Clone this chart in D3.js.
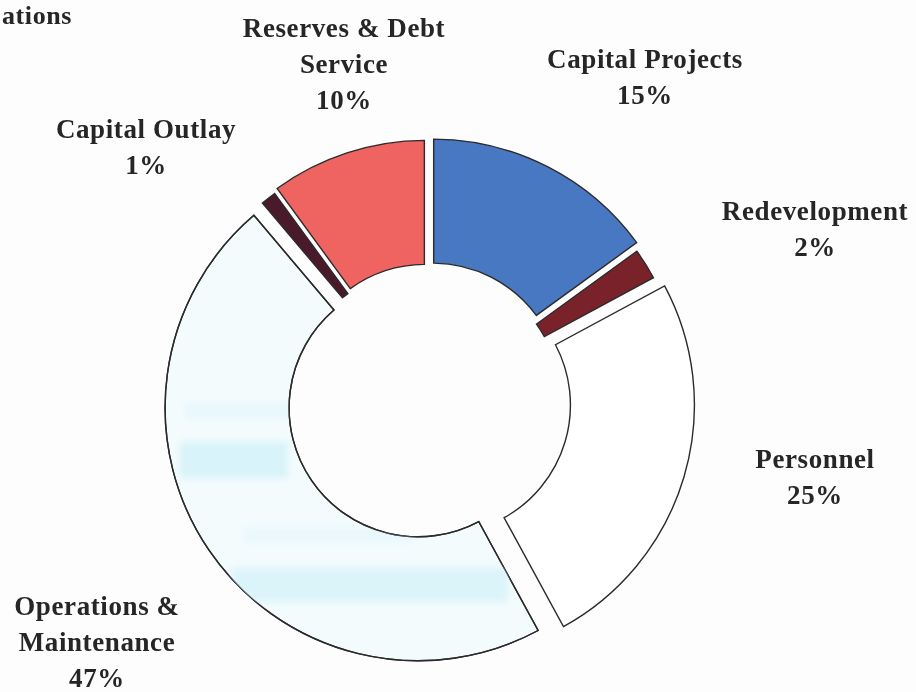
<!DOCTYPE html>
<html>
<head>
<meta charset="utf-8">
<script src="https://cdn.jsdelivr.net/npm/d3@7"></script>
<style>
  html, body { margin: 0; padding: 0; background: #fdfdfd; }
  svg { display: block; }
</style>
</head>
<body>
<svg id="chart" width="916" height="692"></svg>
<script>
// Budget shares by use, clockwise from twelve o'clock
const categories = ["Capital Projects", "Redevelopment", "Personnel",
                    "Operations & Maintenance", "Capital Outlay", "Reserves & Debt Service"];
const shares = [15, 2, 25, 47, 1, 10];
const labelLines = [["Capital Projects"], ["Redevelopment"], ["Personnel"],
                    ["Operations &", "Maintenance"], ["Capital Outlay"], ["Reserves & Debt", "Service"]];
const titleText = "ations";

// Styling and layout
const fills = ["#4878c1", "#7a2229", "#ffffff", "#f3fbfd", "#4a1a2b", "#ef6460"];
const explode = [10, 4, 14, 12, 5, 8];
const labelAnchors = [[645, 68], [815, 220], [815, 468], [97, 615], [146, 138], [344, 37]];
const center = [428, 401];
const innerR = 129, outerR = 253;
const lineGap = 36;

const svg = d3.select("#chart");

const pie = d3.pie().value(d => d).sort(null).padAngle(0.008);
const arcs = pie(shares);
const arc = d3.arc().innerRadius(innerR).outerRadius(outerR);

const g = svg.append("g").attr("transform", `translate(${center[0]},${center[1]})`);

const offset = (a, i) => {
  const mid = (a.startAngle + a.endAngle) / 2;
  return [explode[i] * Math.sin(mid), -explode[i] * Math.cos(mid)];
};

const defs = svg.append("defs");
defs.append("filter").attr("id", "soft")
  .attr("x", "-20%").attr("y", "-50%").attr("width", "140%").attr("height", "200%")
  .append("feGaussianBlur").attr("stdDeviation", 3);

// clip paths following each exploded slice
arcs.forEach((a, i) => {
  const [dx, dy] = offset(a, i);
  defs.append("clipPath").attr("id", "slice-clip-" + i)
    .append("path")
    .attr("transform", `translate(${center[0] + dx},${center[1] + dy})`)
    .attr("d", arc(a));
});

g.selectAll("path.slice")
  .data(arcs)
  .join("path")
  .attr("class", "slice")
  .attr("transform", (a, i) => { const [dx, dy] = offset(a, i); return `translate(${dx},${dy})`; })
  .attr("d", arc)
  .attr("fill", (a, i) => fills[i])
  .attr("stroke", "#2b2b2b")
  .attr("stroke-width", 1.4)
  .attr("stroke-linejoin", "miter");

// pale cyan wash bands within the operations & maintenance slice
const omIndex = 3;
const wash = svg.append("g").attr("clip-path", `url(#slice-clip-${omIndex})`)
  .append("g").attr("filter", "url(#soft)");
[[180, 442, 108, 36, 0.6], [232, 568, 276, 34, 0.55], [185, 404, 105, 14, 0.25], [245, 528, 170, 14, 0.2]]
  .forEach(([x, y, w, h, o]) => {
    wash.append("rect").attr("x", x).attr("y", y).attr("width", w).attr("height", h)
      .attr("fill", "#c6eff6").attr("opacity", o);
  });

// outline of the operations slice above the wash
{
  const a = arcs[omIndex];
  const [dx, dy] = offset(a, omIndex);
  g.append("path")
    .attr("transform", `translate(${dx},${dy})`)
    .attr("d", arc(a))
    .attr("fill", "none")
    .attr("stroke", "#2b2b2b")
    .attr("stroke-width", 1.4);
}

const font = "'Liberation Serif', 'Times New Roman', serif";

// category labels with percentages
const labels = svg.append("g")
  .attr("font-family", font)
  .attr("font-weight", "bold")
  .attr("font-size", 27)
  .attr("letter-spacing", 0.6)
  .attr("fill", "#262626")
  .attr("text-anchor", "middle");

categories.forEach((c, i) => {
  const [x, y] = labelAnchors[i];
  const lines = labelLines[i].concat([shares[i] + "%"]);
  const t = labels.append("text").attr("x", x).attr("y", y);
  lines.forEach((ln, k) => {
    t.append("tspan").attr("x", x).attr("y", y + k * lineGap).text(ln);
  });
});

// chart title at the top-left corner
svg.append("text")
  .attr("x", 2).attr("y", 24)
  .attr("text-anchor", "start")
  .attr("font-family", font)
  .attr("font-weight", "bold")
  .attr("font-size", 26)
  .attr("letter-spacing", 0.6)
  .attr("fill", "#262626")
  .text(titleText);
</script>
</body>
</html>
